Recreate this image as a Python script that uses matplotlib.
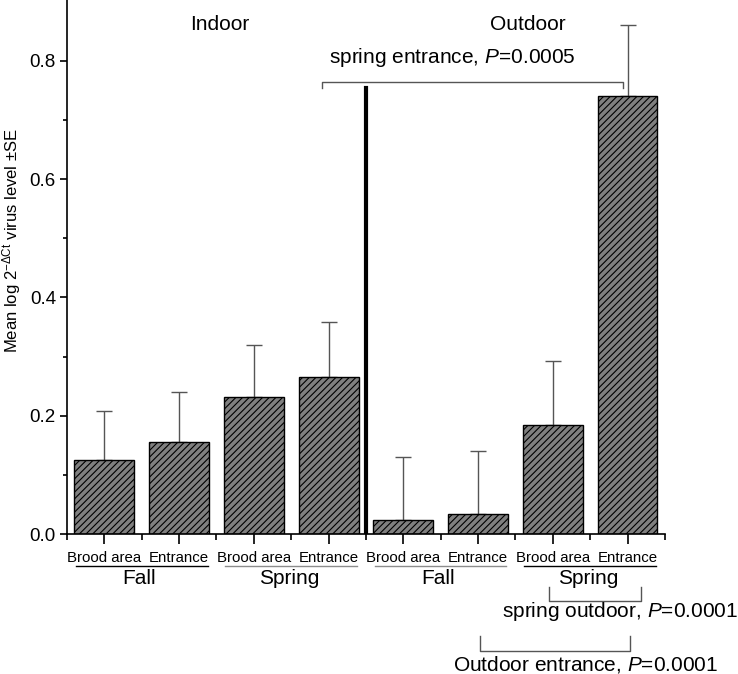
import matplotlib
matplotlib.use("Agg")
import matplotlib.pyplot as plt
import numpy as np

plt.rcParams["font.family"] = ["Liberation Sans", "DejaVu Sans"]
plt.rcParams["mathtext.fontset"] = "custom"
plt.rcParams["mathtext.rm"] = "Liberation Sans"
plt.rcParams["mathtext.it"] = "Liberation Sans:italic"
plt.rcParams["hatch.linewidth"] = 0.8

# data
sites = ["Brood area", "Entrance", "Brood area", "Entrance",
         "Brood area", "Entrance", "Brood area", "Entrance"]
means = [0.125, 0.156, 0.231, 0.265, 0.024, 0.033, 0.185, 0.740]
se = [0.083, 0.084, 0.089, 0.094, 0.107, 0.107, 0.108, 0.120]
seasons = ["Fall", "Spring", "Fall", "Spring"]
season_line_colors = ["black", "#8c8c8c", "#8c8c8c", "black"]
places = ["Indoor", "Outdoor"]

x = np.arange(1, len(means) + 1)

fig = plt.figure(figsize=(7.38, 6.74), dpi=100)
ax = fig.add_axes([0.0908, 0.2077, 0.8102, 0.7923])

ax.bar(x, means, width=0.8, color="#808080", edgecolor="black",
       linewidth=1, hatch="/////", zorder=2)
ax.errorbar(x, means, yerr=[np.zeros(len(se)), se], fmt="none",
            ecolor="#555555", elinewidth=1, capsize=6, capthick=1, zorder=1)

# divider between indoor and outdoor
ax.plot([4.5, 4.5], [0, 0.754], color="black", lw=3, zorder=3)

ax.set_xlim(0.5, 8.5)
ax.set_ylim(0, 0.903)
ax.set_xticks(x)
ax.set_xticklabels(sites, fontsize=10.8)
ax.set_xticks(np.arange(0.5, 9, 1), minor=True)
ax.set_yticks([0, 0.2, 0.4, 0.6, 0.8])
ax.set_yticklabels(["0.0", "0.2", "0.4", "0.6", "0.8"], fontsize=13.5)
ax.set_yticks([0.1, 0.3, 0.5, 0.7], minor=True)
ax.tick_params(axis="x", which="major", length=7, width=1.2, pad=5)
ax.tick_params(axis="x", which="minor", length=4, width=1.2)
ax.tick_params(axis="y", which="major", length=5, width=1.2, pad=3)
ax.tick_params(axis="y", which="minor", length=3, width=1.2)
for s in ["top", "right"]:
    ax.spines[s].set_visible(False)
for s in ["left", "bottom"]:
    ax.spines[s].set_linewidth(1.2)

ax.set_ylabel(r"Mean log 2$^{-\Delta\mathrm{Ct}}$ virus level ±SE", fontsize=12)
ax.yaxis.set_label_coords(-0.073, 0.549)

# season group lines and labels
for i, (name, col) in enumerate(zip(seasons, season_line_colors)):
    c = 1.5 + 2 * i
    ax.plot([c - 0.88, c + 0.88], [-0.054, -0.054], color=col, lw=1,
            clip_on=False)
    ax.text(c - 0.03, -0.075, name, ha="center", va="center", fontsize=15)

# indoor / outdoor labels
ax.text(2.55, 0.862, places[0], ha="center", va="center", fontsize=15)
ax.text(6.67, 0.862, places[1], ha="center", va="center", fontsize=15)

# significance brackets
gray = "#555555"
ax.plot([3.91, 3.91, 7.94, 7.94], [0.754, 0.765, 0.765, 0.754], color=gray,
        lw=1, clip_on=False)
ax.text(5.65, 0.805, r"spring entrance, $P$=0.0005", ha="center",
        va="center", fontsize=15)

ax.plot([6.95, 6.95, 8.18, 8.18], [-0.090, -0.113, -0.113, -0.090],
        color=gray, lw=1, clip_on=False)
ax.text(7.9, -0.131, r"spring outdoor, $P$=0.0001", ha="center",
        va="center", fontsize=15)

ax.plot([6.03, 6.03, 8.03, 8.03], [-0.172, -0.197, -0.197, -0.172],
        color=gray, lw=1, clip_on=False)
ax.text(7.44, -0.221, r"Outdoor entrance, $P$=0.0001", ha="center",
        va="center", fontsize=15)

fig.savefig("out.png", dpi=100)
